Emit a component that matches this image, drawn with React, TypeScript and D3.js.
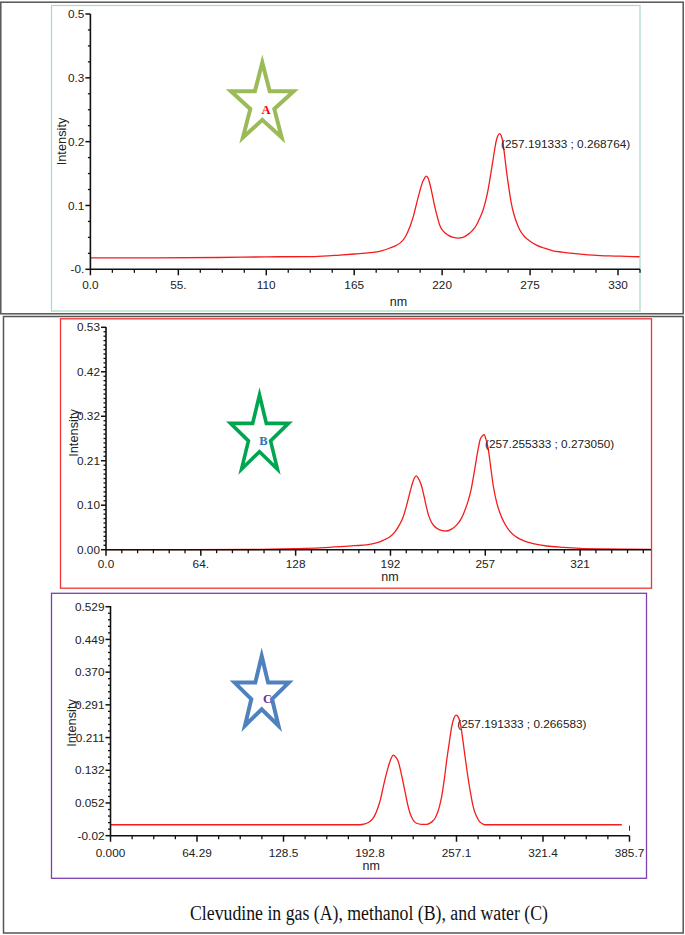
import React from 'react';
import * as d3 from 'd3';

// ---------- DATA ----------
// Panel A (gas): [nm, intensity]  (y scale follows the drawn tick grid)
const curveA: [number, number][] = [
  [0, 0.018], [40, 0.018], [80, 0.0185], [110, 0.0195], [140, 0.02], [156, 0.0223], [165, 0.024],
  [175, 0.026], [182, 0.029], [187, 0.033], [191, 0.037], [194.5, 0.043], [197, 0.051], [199.7, 0.066],
  [202, 0.083], [204, 0.103], [206, 0.122], [207.5, 0.135], [209, 0.143], [210, 0.146], [211, 0.144],
  [212.3, 0.134], [214, 0.115], [215.5, 0.097], [217, 0.082], [218.5, 0.069], [221, 0.059], [223.7, 0.0536],
  [227, 0.05], [230, 0.049], [233, 0.05], [236.2, 0.0547], [239, 0.061], [241.4, 0.069], [243.5, 0.08],
  [245.6, 0.093], [247.3, 0.108], [248.7, 0.124], [250.3, 0.148], [251.8, 0.171], [253, 0.19], [254, 0.203],
  [255, 0.21], [256, 0.2125], [257, 0.209], [258, 0.199], [259, 0.18], [260.2, 0.155], [261.7, 0.128],
  [263.3, 0.103], [264.8, 0.087], [266.4, 0.0744], [268.5, 0.062], [271.6, 0.051], [275, 0.044], [279, 0.038],
  [284, 0.033], [289.3, 0.029], [295, 0.027], [301.8, 0.025], [308, 0.0235], [314.3, 0.0223], [325, 0.021],
  [335, 0.0203], [343.5, 0.0197],
];
const xTicksA = [0, 55, 110, 165, 220, 275, 330];
const xTickLabelsA = ['0.0', '55.', '110', '165', '220', '275', '330'];
const yTicksA = [0, 0.1, 0.2, 0.3, 0.4];
const yTickLabelsA = ['-0.', '0.1', '0.2', '0.3', '0.5'];
const peakLabelA = '(257.191333 ; 0.268764)';

// Panel B (methanol)
const curveB: [number, number][] = [
  [0, 0], [60, 0], [100, 0.0005], [128, 0.0025], [145, 0.0045], [158.5, 0.0072], [168, 0.0095], [176.5, 0.0115],
  [183, 0.016], [188, 0.023], [192.3, 0.031], [195.5, 0.042], [198.5, 0.058], [201.3, 0.079], [203.5, 0.105],
  [205.9, 0.138], [207.8, 0.162], [209, 0.172], [210, 0.176], [211.2, 0.172], [212.5, 0.163], [213.8, 0.15],
  [215.5, 0.125], [217, 0.101], [218.3, 0.083], [220, 0.068], [222, 0.057], [224, 0.051], [227, 0.046],
  [230.7, 0.0446], [234, 0.049], [237.5, 0.059], [240.5, 0.074], [243.1, 0.0948], [245.5, 0.12], [247.3, 0.145],
  [248.8, 0.174], [250.5, 0.21], [252, 0.24], [253.3, 0.262], [254.8, 0.271], [256, 0.274], [257.2, 0.264],
  [258.9, 0.238], [260.5, 0.196], [262.3, 0.15], [264.5, 0.113], [266.8, 0.087], [270, 0.062], [273.6, 0.043],
  [278, 0.03], [282.6, 0.0215], [290, 0.0138], [298.4, 0.0088], [310, 0.0055], [321, 0.0033], [335, 0.002],
  [350, 0.0013], [369, 0.001],
];
const xTicksB = [0, 64.2, 128.4, 192.6, 256.8, 321];
const xTickLabelsB = ['0.0', '64.', '128', '192', '257', '321'];
const yTicksB = [0, 0.106, 0.212, 0.318, 0.424, 0.53];
const yTickLabelsB = ['0.00', '0.10', '0.21', '0.32', '0.42', '0.53'];
const peakLabelB = '(257.255333 ; 0.273050)';

// Panel C (water)
const curveC: [number, number][] = [
  [0, 0], [185, 0], [189, 0.002], [192, 0.006], [194.5, 0.013], [196.6, 0.024], [198.6, 0.04], [200.7, 0.062],
  [202.7, 0.092], [204.6, 0.118], [206.5, 0.141], [208.3, 0.159], [210.2, 0.169], [212, 0.164], [213.9, 0.153],
  [215.8, 0.128], [217.6, 0.1006], [219.4, 0.072], [221, 0.047], [222.6, 0.028], [224.5, 0.014], [226, 0.007],
  [227.5, 0.0036], [231, 0.001], [235, 0.001], [237.5, 0.004], [239.5, 0.009], [241.2, 0.0157], [243, 0.029],
  [244.6, 0.046], [246.1, 0.068], [248, 0.108], [249.9, 0.157], [251.8, 0.2], [253.6, 0.238], [255.2, 0.258],
  [256.8, 0.266], [258.5, 0.261], [260.2, 0.242], [261.8, 0.207], [263.5, 0.165], [265.3, 0.123], [267.2, 0.0843],
  [269, 0.052], [270.5, 0.033], [272.1, 0.02], [274, 0.009], [276, 0.003], [278.3, 0], [380, 0],
];
const xTicksC = [0, 64.286, 128.571, 192.857, 257.143, 321.429, 385.714];
const xTickLabelsC = ['0.000', '64.29', '128.5', '192.8', '257.1', '321.4', '385.7'];
const yTicksC = [-0.0265, 0.0528, 0.1321, 0.2114, 0.2907, 0.37, 0.4493, 0.5286];
const yTickLabelsC = ['-0.02', '0.052', '0.132', '0.211', '0.291', '0.370', '0.449', '0.529'];
const peakLabelC = '(257.191333 ; 0.266583)';

const caption = 'Clevudine in gas (A), methanol (B), and water (C)';

// ---------- RENDER ----------
const SANS = "'Liberation Sans', Arial, sans-serif";
const SERIF = "'Liberation Serif', 'Times New Roman', serif";
const TICK_FS = 11.8;

type PanelProps = {
  data: [number, number][];
  xDomain: [number, number];
  xRange: [number, number];
  yDomain: [number, number];
  yRange: [number, number];
  xTicks: number[];
  xLabels: string[];
  yTicks: number[];
  yLabels: string[];
  xMinorN: number;
  yMinorN: number;
  peakLabel: string;
  peakPos: [number, number];
  nmPos: [number, number];
  intensityPos: [number, number];
  xLabelDy: number;
  yAxisTop: number;
  endMark?: boolean;
};

function minorTicks(ticks: number[], n: number, lo: number, hi: number) {
  const step = (ticks[1] - ticks[0]) / n;
  const out: number[] = [];
  const start = ticks[0];
  for (let v = start - step * 50; v <= hi + 1e-9; v += step) {
    if (v < lo - 1e-9) continue;
    const k = Math.round((v - start) / step);
    if (k % n === 0) continue;
    out.push(v);
  }
  return out;
}

function Panel(p: PanelProps) {
  const x = d3.scaleLinear().domain(p.xDomain).range(p.xRange);
  const y = d3.scaleLinear().domain(p.yDomain).range(p.yRange);
  const line = d3
    .line<[number, number]>()
    .x((d) => x(d[0]))
    .y((d) => y(d[1]))
    .curve(d3.curveMonotoneX);
  const x0 = p.xRange[0];
  const y0 = p.yRange[0];
  const xMinor = minorTicks(p.xTicks, p.xMinorN, p.xDomain[0], p.xDomain[1]);
  const yMinor = minorTicks(p.yTicks, p.yMinorN, p.yDomain[0], p.yDomain[1]);
  return (
    <g>
      <path d={line(p.data) || ''} fill="none" stroke="#f41c1c" strokeWidth={1.3} />
      {/* axes */}
      <line x1={x0} x2={p.xRange[1]} y1={y0} y2={y0} stroke="#111" strokeWidth={1.6} />
      <line x1={x0} x2={x0} y1={y0} y2={p.yAxisTop} stroke="#111" strokeWidth={1.6} />
      {p.xTicks.map((t, i) => (
        <g key={'xt' + i}>
          <line x1={x(t)} x2={x(t)} y1={y0} y2={y0 + 6} stroke="#111" strokeWidth={1.5} />
          <text x={x(t)} y={y0 + p.xLabelDy} textAnchor="middle" fontFamily={SANS} fontSize={TICK_FS} fill="#222">
            {p.xLabels[i]}
          </text>
        </g>
      ))}
      {xMinor.map((t, i) => (
        <line key={'xm' + i} x1={x(t)} x2={x(t)} y1={y0} y2={y0 + 3.5} stroke="#111" strokeWidth={1.3} />
      ))}
      {p.yTicks.map((t, i) => (
        <g key={'yt' + i}>
          <line x1={x0 - 5} x2={x0} y1={y(t)} y2={y(t)} stroke="#111" strokeWidth={1.5} />
          <text x={x0 - 6} y={y(t)} dy="0.35em" textAnchor="end" fontFamily={SANS} fontSize={TICK_FS} fill="#222">
            {p.yLabels[i]}
          </text>
        </g>
      ))}
      {yMinor.map((t, i) => (
        <line key={'ym' + i} x1={x0 - 2.5} x2={x0} y1={y(t)} y2={y(t)} stroke="#111" strokeWidth={1.3} />
      ))}
      {p.endMark && (
        <line x1={p.xRange[1]} x2={p.xRange[1]} y1={y0 - 10} y2={y0 - 5} stroke="#333" strokeWidth={1} />
      )}
      <text x={p.peakPos[0]} y={p.peakPos[1]} fontFamily={SANS} fontSize={11.8} fill="#222">
        {p.peakLabel}
      </text>
      <text x={p.nmPos[0]} y={p.nmPos[1]} textAnchor="middle" fontFamily={SANS} fontSize={12.5} fill="#222">
        nm
      </text>
      <text
        transform={`translate(${p.intensityPos[0]},${p.intensityPos[1]}) rotate(-90)`}
        textAnchor="middle"
        dy="0.35em"
        fontFamily={SANS}
        fontSize={12.8}
        fill="#222"
      >
        Intensity
      </text>
    </g>
  );
}

type StarProps = {
  cx: number; cy: number; rx: number; ry: number; color: string; sw: number;
  letter: string; letterColor: string; lx: number; ly: number;
};

function Star(s: StarProps) {
  const pts = d3.range(10).map((i) => {
    const a = -Math.PI / 2 + (i * Math.PI) / 5;
    const r = i % 2 === 0 ? 1 : 0.382;
    return [s.cx + s.rx * r * Math.cos(a), s.cy + s.ry * r * Math.sin(a)] as [number, number];
  });
  const d = 'M' + pts.map((q) => q.join(',')).join('L') + 'Z';
  return (
    <g>
      <path d={d} fill="white" stroke={s.color} strokeWidth={s.sw} strokeLinejoin="miter" strokeMiterlimit={6} />
      <text x={s.lx} y={s.ly} textAnchor="middle" dy="0.35em" fontFamily={SERIF} fontWeight="bold" fontSize={12.5} fill={s.letterColor}>
        {s.letter}
      </text>
    </g>
  );
}

export default function App() {
  return (
    <svg
      width={685}
      height={935}
      viewBox="0 0 685 935"
      style={{ position: 'absolute', left: 0, top: 0, background: 'white' }}
    >
      <rect x={0} y={0} width={685} height={935} fill="white" />
      {/* outer frames */}
      <rect x={0.8} y={2.2} width={682.4} height={311.6} fill="none" stroke="#555" strokeWidth={1.5} />
      <rect x={3.5} y={316.5} width={679.7} height={616.5} fill="none" stroke="#555" strokeWidth={1.5} />
      {/* panel borders */}
      <rect x={51.5} y={5.5} width={588.5} height={305.5} fill="none" stroke="#a6dcc0" strokeWidth={1.2} />
      <rect x={60.5} y={318.8} width={591} height={269.4} fill="none" stroke="#ee3333" strokeWidth={1.3} />
      <rect x={51.5} y={593.3} width={595} height={285} fill="none" stroke="#7a3fb0" strokeWidth={1.3} />

      <Panel
        data={curveA}
        xDomain={[0, 343.75]}
        xRange={[90.4, 640]}
        yDomain={[0, 0.4]}
        yRange={[269.3, 14]}
        xTicks={xTicksA}
        xLabels={xTickLabelsA}
        yTicks={yTicksA}
        yLabels={yTickLabelsA}
        xMinorN={4}
        yMinorN={4}
        peakLabel={peakLabelA}
        peakPos={[501, 147.5]}
        nmPos={[398.5, 305.5]}
        intensityPos={[62, 141.5]}
        xLabelDy={20}
        yAxisTop={14}
      />
      <Panel
        data={curveB}
        xDomain={[0, 369]}
        xRange={[106, 651]}
        yDomain={[0, 0.53]}
        yRange={[549.7, 327.3]}
        xTicks={xTicksB}
        xLabels={xTickLabelsB}
        yTicks={yTicksB}
        yLabels={yTickLabelsB}
        xMinorN={6}
        yMinorN={10}
        peakLabel={peakLabelB}
        peakPos={[485, 448]}
        nmPos={[390, 581]}
        intensityPos={[74, 433]}
        xLabelDy={18.5}
        yAxisTop={327}
      />
      <Panel
        data={curveC}
        xDomain={[0, 385.714]}
        xRange={[110.5, 629.5]}
        yDomain={[-0.0265, 0.5286]}
        yRange={[835.7, 606.7]}
        xTicks={xTicksC}
        xLabels={xTickLabelsC}
        yTicks={yTicksC}
        yLabels={yTickLabelsC}
        xMinorN={4}
        yMinorN={5}
        peakLabel={peakLabelC}
        peakPos={[457.3, 728]}
        nmPos={[371.3, 870]}
        intensityPos={[72, 723]}
        xLabelDy={21}
        yAxisTop={606}
        endMark
      />

      <Star cx={262.3} cy={104} rx={33} ry={41.5} color="#9bbb59" sw={4} letter="A" letterColor="#ff0000" lx={266} ly={110} />
      <Star cx={259.5} cy={436} rx={30.5} ry={41} color="#00a550" sw={3.6} letter="B" letterColor="#2e75b6" lx={263.4} ly={440.7} />
      <Star cx={261.7} cy={694.5} rx={28.5} ry={38.5} color="#4f81bd" sw={4} letter="C" letterColor="#7030a0" lx={267.4} ly={699} />

      <text x={369} y={920} textAnchor="middle" fontFamily={SERIF} fontSize={20} fill="#111" textLength={358} lengthAdjust="spacingAndGlyphs">
        {caption}
      </text>
    </svg>
  );
}
